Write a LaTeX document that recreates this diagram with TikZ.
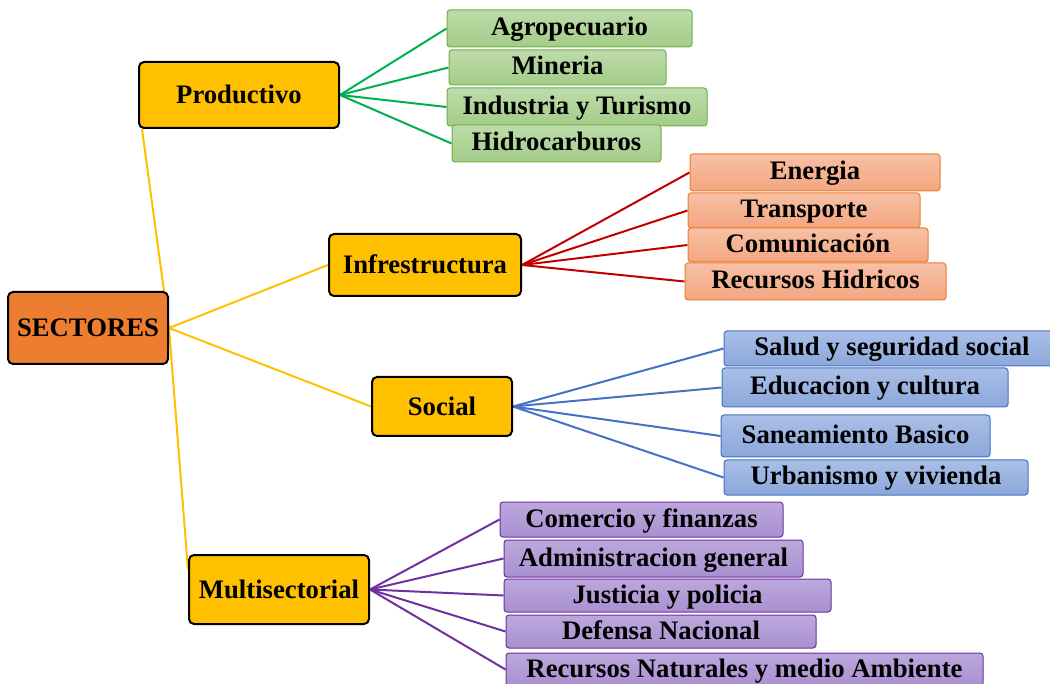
\documentclass[tikz,border=0pt]{standalone}
\usepackage{fontspec}
\setmainfont{Liberation Serif}
\usetikzlibrary{calc,backgrounds}
\definecolor{yel}{HTML}{FFC000}
\definecolor{org}{HTML}{ED7D31}
\definecolor{gline}{HTML}{00B050}
\definecolor{rline}{HTML}{C00000}
\definecolor{bline}{HTML}{4472C4}
\definecolor{pline}{HTML}{7030A0}
\definecolor{gtop}{HTML}{BEDCAB}
\definecolor{gbot}{HTML}{A2CC87}
\definecolor{gbord}{HTML}{70AD47}
\definecolor{rtop}{HTML}{F7C0A5}
\definecolor{rbot}{HTML}{F3A680}
\definecolor{rbord}{HTML}{ED7D31}
\definecolor{btop}{HTML}{A9BFE7}
\definecolor{bbot}{HTML}{8CA7DA}
\definecolor{bbord}{HTML}{4472C4}
\definecolor{ptop}{HTML}{BBA8DD}
\definecolor{pbot}{HTML}{A990D0}
\definecolor{pbord}{HTML}{7030A0}
\tikzset{
  txt/.style={font=\bfseries\fontsize{26.7}{30}\selectfont, text=black, inner sep=0pt, align=center, text height=20pt, text depth=5pt},
  parent/.style={txt, text depth=2pt, draw=black, line width=2pt, rounded corners=5pt, fill=yel},
  leaf/.style={txt, line width=1pt, rounded corners=3pt},
  gleaf/.style={leaf, top color=gtop, bottom color=gbot, draw=gbord},
  rleaf/.style={leaf, top color=rtop, bottom color=rbot, draw=rbord},
  bleaf/.style={leaf, top color=btop, bottom color=bbot, draw=bbord},
  pleaf/.style={leaf, top color=ptop, bottom color=pbot, draw=pbord},
  yconn/.style={draw=yel, line width=2pt},
  gconn/.style={draw=gline, line width=2pt},
  rconn/.style={draw=rline, line width=2pt},
  bconn/.style={draw=bline, line width=2pt},
  pconn/.style={draw=pline, line width=2pt}
}
\begin{document}
\begin{tikzpicture}[x=1pt,y=-1pt]
\clip (0,0) rectangle (1050,684);
% parents
\node[parent, fill=org, minimum width=160pt, minimum height=72pt] (sect) at (88,328) {SECTORES};
\node[parent, minimum width=200pt, minimum height=66pt] (prod) at (239,95) {Productivo};
\node[parent, minimum width=192pt, minimum height=62pt] (infra) at (425,265) {Infrestructura};
\node[parent, minimum width=140pt, minimum height=59pt] (soc) at (442,406.5) {Social};
\node[parent, minimum width=180pt, minimum height=69pt] (multi) at (279,589.5) {Multisectorial};
% green
\node[gleaf, minimum width=245pt, minimum height=37pt] (agro) at (569.5,28.5) {Agropecuario};
\node[gleaf, minimum width=217pt, minimum height=35pt] (mine) at (557.5,67.5) {Mineria};
\node[gleaf, minimum width=260pt, minimum height=38pt] (indu) at (577,107) {Industria y Turismo};
\node[gleaf, minimum width=209pt, minimum height=37pt] (hidro) at (556.5,143.5) {Hidrocarburos};
% red
\node[rleaf, minimum width=250pt, minimum height=37pt] (ener) at (815,172.5) {Energia};
\node[rleaf, minimum width=232pt, minimum height=35pt] (trans) at (804,210.5) {Transporte};
\node[rleaf, minimum width=240pt, minimum height=34pt] (comu) at (808,245) {Comunicación};
\node[rleaf, minimum width=261pt, minimum height=37pt] (rhid) at (815.5,281.5) {Recursos Hidricos};
% blue
\node[bleaf, minimum width=336pt, minimum height=35pt] (salud) at (892,348.5) {Salud y seguridad social};
\node[bleaf, minimum width=286pt, minimum height=39pt] (educ) at (865,387.5) {Educacion y cultura};
\node[bleaf, minimum width=269pt, minimum height=42pt] (sane) at (855.5,436) {Saneamiento Basico};
\node[bleaf, minimum width=304pt, minimum height=35pt] (urb) at (876,477.5) {Urbanismo y vivienda};
% purple
\node[pleaf, minimum width=283pt, minimum height=35pt] (come) at (641.5,519.5) {Comercio y finanzas};
\node[pleaf, minimum width=299pt, minimum height=37pt] (adm) at (653.5,558.5) {Administracion general};
\node[pleaf, minimum width=327pt, minimum height=33pt] (just) at (667.5,595.5) {Justicia y policia};
\node[pleaf, minimum width=310pt, minimum height=33pt] (def) at (661,631.5) {Defensa Nacional};
\node[pleaf, minimum width=477pt, minimum height=33pt] (rnat) at (744.5,669.5) {Recursos Naturales y medio Ambiente};
% connectors
\begin{scope}[on background layer]
\coordinate (prodend) at ($(prod.south west)+(4,0)$);
\coordinate (multiend) at ($(multi.north west)!0.22!(multi.south west)$);
\draw[yconn] (sect.east) -- (prodend);
\draw[yconn] (sect.east) -- (infra.west);
\draw[yconn] (sect.east) -- (soc.west);
\draw[yconn] (sect.east) -- (multiend);
\foreach \c in {agro,mine,indu,hidro} \draw[gconn] (prod.east) -- (\c.west);
\foreach \c in {ener,trans,comu,rhid} \draw[rconn] (infra.east) -- (\c.west);
\foreach \c in {salud,educ,sane,urb} \draw[bconn] (soc.east) -- (\c.west);
\foreach \c in {come,adm,just,def,rnat} \draw[pconn] (multi.east) -- (\c.west);
\end{scope}
\end{tikzpicture}
\end{document}
